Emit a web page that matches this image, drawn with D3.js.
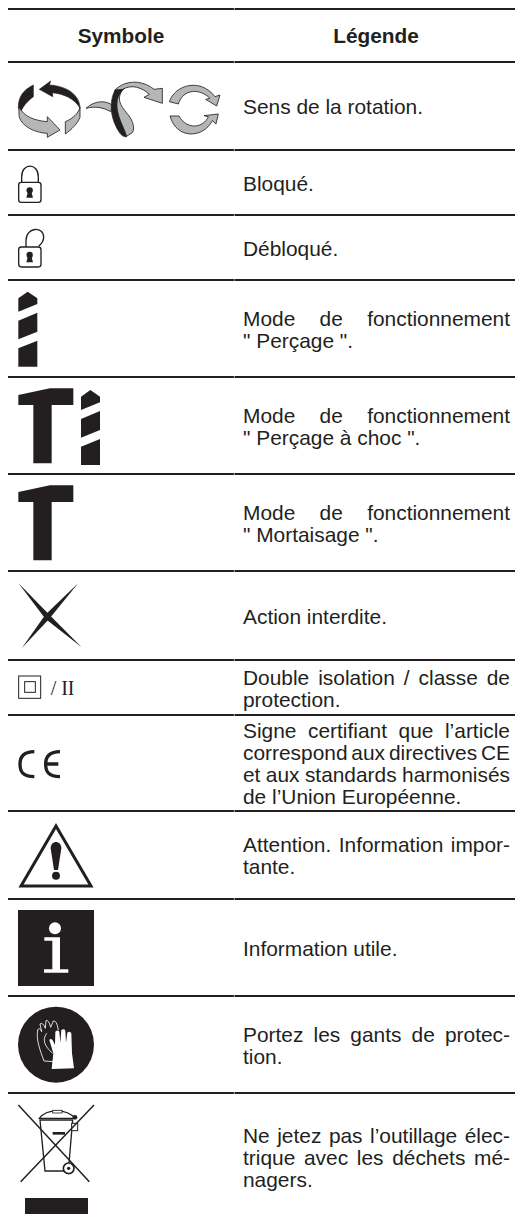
<!DOCTYPE html>
<html>
<head>
<meta charset="utf-8">
<script src="https://cdn.jsdelivr.net/npm/d3@7"></script>
<style>
  html, body { margin: 0; padding: 0; background: #fff; overflow: hidden; }
  text { font-family: "Liberation Sans", Arial, sans-serif; }
</style>
</head>
<body>
<svg id="chart" width="515" height="1220"></svg>
<script>
const headers = ["Symbole", "Légende"];

const symbolNames = [
  "rotation", "locked", "unlocked", "drill", "hammerDrill", "hammer",
  "forbidden", "doubleInsulation", "ce", "warning", "info", "gloves", "weee",
];

// a trailing "|" keeps a line flush left, all the others are justified
const legendLines = [
  ["Sens de la rotation.|"],
  ["Bloqué.|"],
  ["Débloqué.|"],
  ["Mode de fonctionnement", "\" Perçage \".|"],
  ["Mode de fonctionnement", "\" Perçage à choc \".|"],
  ["Mode de fonctionnement", "\" Mortaisage \".|"],
  ["Action interdite.|"],
  ["Double isolation / classe de", "protection.|"],
  ["Signe certifiant que l’article", "correspond aux directives CE", "et aux standards harmonisés", "de l’Union Européenne.|"],
  ["Attention. Information impor-", "tante.|"],
  ["Information utile.|"],
  ["Portez les gants de protec-", "tion.|"],
  ["Ne jetez pas l’outillage élec-", "trique avec les déchets mé-", "nagers.|"],
];

const ink = "#231f20";
const rowHeights = [88, 65, 65, 97, 97, 97, 89, 55, 96, 88, 97, 97, 127];
const headTop = 9, headBottom = 62;
const lineHeight = 22, fontSize = 20.9;
const textLeft = 243, textRight = 510;

const svg = d3.select("#chart");

// row edges from the heights
const edges = d3.cumsum([headBottom].concat(rowHeights));
const ruleYs = [headTop].concat(Array.from(edges).slice(0, -1));

svg.append("g").selectAll("line").data(ruleYs).join("line")
  .attr("x1", 8).attr("x2", 515)
  .attr("y1", d => d).attr("y2", d => d)
  .attr("stroke", ink).attr("stroke-width", 2.1);
svg.append("g").selectAll("line").data(ruleYs).join("line")
  .attr("x1", 234.3).attr("x2", 234.3)
  .attr("y1", d => d - 1).attr("y2", d => d + 1)
  .attr("stroke", "#fff").attr("stroke-width", 0.6);

svg.append("g").selectAll("text").data(headers).join("text")
  .attr("x", (d, i) => (i === 0 ? 121 : 376))
  .attr("y", 43)
  .attr("text-anchor", "middle")
  .attr("font-weight", "bold")
  .attr("font-size", 20.8)
  .attr("fill", ink)
  .text(d => d);

// legend column
const rows = svg.append("g").selectAll("g").data(legendLines).join("g");
rows.each(function (lines, r) {
  const centre = (edges[r] + edges[r + 1]) / 2;
  const first = centre - ((lines.length - 1) * lineHeight) / 2 + 8;
  d3.select(this).selectAll("text").data(lines).join("text")
    .attr("x", textLeft)
    .attr("y", (d, i) => first + i * lineHeight)
    .attr("font-size", fontSize)
    .attr("fill", ink)
    .text(d => d.replace("|", ""))
    .each(function (d) {
      if (d.endsWith("|")) return;
      const gaps = d.split(" ").length - 1;
      const spare = textRight - textLeft - this.getComputedTextLength();
      d3.select(this).attr("word-spacing", spare / gaps);
    });
});

// symbols are traced on a 3x grid, so every group gets scale(1/3)
const poly = (g, pts, fill) => g.append("polygon")
  .attr("points", pts.map(p => p.join(",")).join(" "))
  .attr("fill", fill || ink);
const path = (g, d, fill, stroke, w) => g.append("path")
  .attr("d", d)
  .attr("fill", fill || "none")
  .attr("stroke", stroke || "none")
  .attr("stroke-width", w || 0);
const grey = "#b5b6b8";

function drillShape(g, dx, dy) {
  poly(g, [[55, 25], [83, 5], [112, 25], [112, 42], [55, 65]].map(p => [p[0] + dx, p[1] + dy]));
  poly(g, [[55, 92], [112, 68], [112, 125], [55, 148]].map(p => [p[0] + dx, p[1] + dy]));
  poly(g, [[55, 175], [112, 152], [112, 230], [55, 230]].map(p => [p[0] + dx, p[1] + dy]));
}
function hammerShape(g, dy) {
  poly(g, [[55, 20], [150, 0], [220, 0], [220, 50], [155, 50], [155, 225], [100, 225], [100, 50], [55, 50]]
    .map(p => [p[0], p[1] + dy]));
}
function lockBody(g, top) {
  g.append("rect").attr("x", 56).attr("y", top).attr("width", 67).attr("height", 60).attr("rx", 8)
    .attr("fill", "#fff").attr("stroke", ink).attr("stroke-width", 4);
  g.append("circle").attr("cx", 89).attr("cy", top + 24).attr("r", 9.5).attr("fill", ink);
  poly(g, [[84, top + 28], [94, top + 28], [99, top + 46], [79, top + 46]]);
}

const drawSymbol = {
  rotation(g) {
    path(g, "M100,255 C70,270 55,290 55,322 L62,345 C62,322 85,302 100,290 Z", ink, ink, 2);
    path(g, "M240,322 L240,352 C232,372 215,388 196,402 L196,365 C220,355 235,340 240,322 Z", grey, ink, 2.5);
    path(g, "M118,268 L152,243 L148,255 C200,258 240,285 240,325 C225,295 190,282 158,278 L158,290 Z", ink, ink, 2);
    path(g, "M57,320 C70,350 105,362 142,365 L142,350 L180,390 L142,412 L142,400 C100,398 60,375 57,345 Z", grey, ink, 2.5);
    // ribbon: tail, side, black face, then the arrow on top
    path(g, "M258,325 C285,300 320,300 340,318 L332,335 C310,322 285,318 258,325 Z", grey, ink, 2.5);
    path(g, "M370,265 C345,300 365,320 385,345 C400,365 405,385 397,398 L378,410 C365,370 340,330 345,270 Z", grey, ink, 2.5);
    path(g, "M345,270 C325,310 332,360 360,400 C368,410 375,411 380,410 C375,385 345,345 352,300 C356,285 365,270 385,255 Z", ink, ink, 2);
    path(g, "M345,270 C375,240 425,238 462,268 L487,265 L487,310 L432,292 L448,283 C425,262 395,252 368,268 Z", grey, ink, 2.5);
    path(g, "M508,305 C525,255 600,232 645,290 L660,285 L650,318 L617,298 L630,295 C600,265 550,265 535,312 Z", grey, ink, 2.5);
    path(g, "M510,348 L537,348 C560,390 610,385 625,350 L612,347 L655,342 L648,372 L637,362 C610,415 530,420 510,348 Z", grey, ink, 2.5);
  },
  locked(g) {
    path(g, "M65,550 L65,530 C65,488 115,488 115,530 L115,550", "none", ink, 4);
    lockBody(g, 547);
  },
  unlocked(g) {
    path(g, "M78,742 L78,722 C78,680 131,678 131,712 C131,725 124,732 116,739", "none", ink, 4);
    lockBody(g, 741);
  },
  drill(g) { drillShape(g, 0, 870); },
  hammerDrill(g) {
    hammerShape(g, 1165);
    drillShape(g, 188, 1165);
  },
  hammer(g) { hammerShape(g, 1456); },
  forbidden(g) {
    poly(g, [[55, 1749], [148, 1844], [245, 1942], [136, 1856]]);
    poly(g, [[235, 1749], [148, 1856], [65, 1945], [136, 1844]]);
  },
  doubleInsulation(g) {
    g.append("rect").attr("x", 56).attr("y", 2028).attr("width", 66).attr("height", 67)
      .attr("fill", "none").attr("stroke", ink).attr("stroke-width", 3);
    g.append("rect").attr("x", 74).attr("y", 2045).attr("width", 32).attr("height", 32)
      .attr("fill", "none").attr("stroke", ink).attr("stroke-width", 3);
    g.append("text").attr("x", 152).attr("y", 2085)
      .attr("font-size", 60).attr("fill", ink)
      .style("font-family", "'Liberation Serif', serif").text("/ II");
  },
  ce(g) {
    path(g, "M103,2255 C68,2255 60,2272 60,2292 C60,2315 68,2330 103,2330", "none", ink, 10);
    path(g, "M180,2255 C145,2255 137,2272 137,2292 C137,2315 145,2330 180,2330 M137,2292 L175,2292", "none", ink, 10);
  },
  warning(g) {
    path(g, "M168,2478 L273,2658 L63,2658 Z", "#fff", ink, 9);
    path(g, "M152,2545 C152,2520 184,2520 184,2545 L174,2610 L162,2610 Z", ink);
    g.append("circle").attr("cx", 168).attr("cy", 2627).attr("r", 12).attr("fill", ink);
  },
  info(g) {
    g.append("rect").attr("x", 54).attr("y", 2730).attr("width", 228).attr("height", 228).attr("fill", ink);
    g.append("circle").attr("cx", 165).attr("cy", 2785).attr("r", 18).attr("fill", "#fff");
    path(g, "M133,2812 L180,2812 L180,2908 L205,2908 L205,2918 L132,2918 L132,2908 L157,2908 L157,2822 L133,2822 Z", "#fff");
  },
  gloves(g) {
    g.append("circle").attr("cx", 168).attr("cy", 3134).attr("r", 114).attr("fill", ink);
    path(g, "M132,3183 L160,3185 M132,3183 C120,3150 108,3120 113,3090 Q118,3080 125,3095 L120,3072 Q128,3065 136,3085 L138,3062 Q146,3058 152,3082 L160,3063 Q170,3060 175,3090 M140,3100 C125,3120 135,3140 158,3160",
      "none", "#fff", 2.5);
    path(g, "M155,3207 L160,3160 L148,3120 Q155,3110 165,3135 L166,3095 Q174,3088 178,3095 L181,3128 L184,3090 Q192,3085 196,3092 L198,3128 L202,3098 Q210,3092 214,3100 L216,3160 L222,3205 Z", "#fff");
  },
  weee(g) {
    // bin
    path(g, "M120,3360 L135,3513 L205,3513 L218,3360 Z", "#fff", ink, 4);
    path(g, "M118,3355 C140,3325 200,3325 225,3355 Z", "#fff", ink, 4);
    g.append("rect").attr("x", 158).attr("y", 3331).attr("width", 28).attr("height", 8).attr("fill", "#fff").attr("stroke", ink).attr("stroke-width", 2.5);
    g.append("rect").attr("x", 158).attr("y", 3396).attr("width", 37).attr("height", 8).attr("fill", ink);
    g.append("rect").attr("x", 215).attr("y", 3370).attr("width", 18).attr("height", 22).attr("fill", "#fff").attr("stroke", ink).attr("stroke-width", 3);
    g.append("circle").attr("cx", 225).attr("cy", 3352).attr("r", 7).attr("fill", ink);
    g.append("circle").attr("cx", 206).attr("cy", 3505).attr("r", 16).attr("fill", "#fff").attr("stroke", ink).attr("stroke-width", 5);
    g.append("circle").attr("cx", 206).attr("cy", 3505).attr("r", 5).attr("fill", ink);
    path(g, "M55,3315 L268,3545 M282,3315 L62,3545", "none", ink, 4.5);
    g.append("rect").attr("x", 75).attr("y", 3594).attr("width", 189).attr("height", 48).attr("fill", ink);
  },
};

const icons = svg.append("g").attr("transform", "scale(0.33333)");
symbolNames.forEach(name => {
  drawSymbol[name](icons.append("g").attr("class", name));
});
</script>
</body>
</html>
